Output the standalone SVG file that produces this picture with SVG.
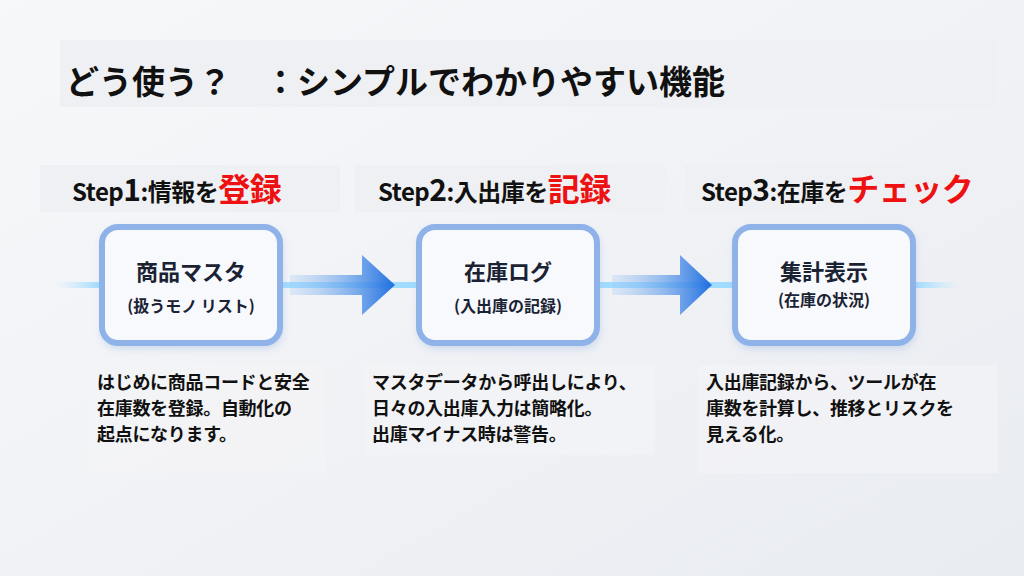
<svg xmlns="http://www.w3.org/2000/svg" width="1024" height="576" viewBox="0 0 1024 576">
<defs>
<linearGradient id="bg" x1="0" y1="0" x2="1" y2="1"><stop offset="0" stop-color="#f7f8fa"/><stop offset="1" stop-color="#e9ecf1"/></linearGradient>
<linearGradient id="glow" x1="0" x2="1"><stop offset="0" stop-color="#bfe6ff" stop-opacity="0"/><stop offset="0.05" stop-color="#9fdcff"/><stop offset="0.95" stop-color="#9fdcff"/><stop offset="1" stop-color="#bfe6ff" stop-opacity="0"/></linearGradient>
<linearGradient id="arr" x1="0" x2="1"><stop offset="0" stop-color="#a9cdf5" stop-opacity="0.3"/><stop offset="1" stop-color="#1f6fe0"/></linearGradient>
<filter id="sh" x="-20%" y="-20%" width="140%" height="140%"><feGaussianBlur stdDeviation="4"/></filter>
</defs>
<style>
text{font-family:"Noto Sans CJK JP","Noto Sans",sans-serif;font-weight:700;fill:#111}
.step{font-size:24px;letter-spacing:-0.5px}
.red{fill:#ee1111;font-size:32px}
.box{fill:#f7f9fc;stroke:#8fb3e8;stroke-width:6}
.nt{font-size:22px;fill:#1a2233;text-anchor:middle}
.ns{font-size:16px;fill:#1a2233;text-anchor:middle}
.d{font-size:18px;letter-spacing:-0.3px}
.band{fill:#eef0f3}
</style>
<rect width="1024" height="576" fill="url(#bg)"/>
<g id="title"><rect class="band" x="60" y="40" width="936" height="67"/><text x="66" y="94" font-size="33">どう使う？　：シンプルでわかりやすい機能</text></g>
<g id="connectors">
<rect x="55" y="282" width="905" height="6" fill="url(#glow)"/>
<polygon points="290,275 362,275 362,255 395,285 362,315 362,295 290,295" fill="url(#arr)"/>
<polygon points="612,275 680,275 680,255 712,285 680,315 680,295 612,295" fill="url(#arr)"/>
</g>
<g id="step1"><rect class="band" x="40" y="165" width="300" height="47"/><text class="step" x="72" y="201">Step<tspan font-size="30">1</tspan>:情報を<tspan class="red">登録</tspan></text></g>
<g id="step2"><rect class="band" x="355" y="165" width="310" height="47"/><text class="step" x="378" y="201">Step<tspan font-size="30">2</tspan>:入出庫を<tspan class="red">記録</tspan></text></g>
<g id="step3"><rect class="band" x="685" y="165" width="303" height="47"/><text class="step" x="701" y="201">Step<tspan font-size="30">3</tspan>:在庫を<tspan class="red">チェック</tspan></text></g>
<g id="node1"><rect x="102" y="230" width="180" height="118" rx="16" fill="#9bb8e0" opacity="0.5" filter="url(#sh)"/><rect class="box" x="102" y="227" width="178" height="116" rx="16"/><text class="nt" x="191" y="280">商品マスタ</text><text class="ns" x="191" y="312">(扱うモノ リスト)</text></g>
<g id="node2"><rect x="419" y="230" width="180" height="118" rx="16" fill="#9bb8e0" opacity="0.5" filter="url(#sh)"/><rect class="box" x="419" y="227" width="178" height="116" rx="16"/><text class="nt" x="508" y="280">在庫ログ</text><text class="ns" x="508" y="312">(入出庫の記録)</text></g>
<g id="node3"><rect x="735" y="230" width="180" height="118" rx="16" fill="#9bb8e0" opacity="0.5" filter="url(#sh)"/><rect class="box" x="735" y="227" width="178" height="116" rx="16"/><text class="nt" x="824" y="280">集計表示</text><text class="ns" x="824" y="306">(在庫の状況)</text></g>
<g id="desc1"><rect x="90" y="365" width="235" height="108" fill="#f3f4f6" opacity="0.7"/><text class="d" x="97" y="389">はじめに商品コードと安全</text><text class="d" x="97" y="415">在庫数を登録。自動化の</text><text class="d" x="97" y="441">起点になります。</text></g>
<g id="desc2"><rect x="365" y="365" width="290" height="90" fill="#f3f4f6" opacity="0.7"/><text class="d" x="372" y="389">マスタデータから呼出しにより、</text><text class="d" x="372" y="415">日々の入出庫入力は簡略化。</text><text class="d" x="372" y="441">出庫マイナス時は警告。</text></g>
<g id="desc3"><rect x="698" y="365" width="300" height="108" fill="#f3f4f6" opacity="0.7"/><text class="d" x="706" y="389">入出庫記録から、ツールが在</text><text class="d" x="706" y="415">庫数を計算し、推移とリスクを</text><text class="d" x="706" y="441">見える化。</text></g>
</svg>
